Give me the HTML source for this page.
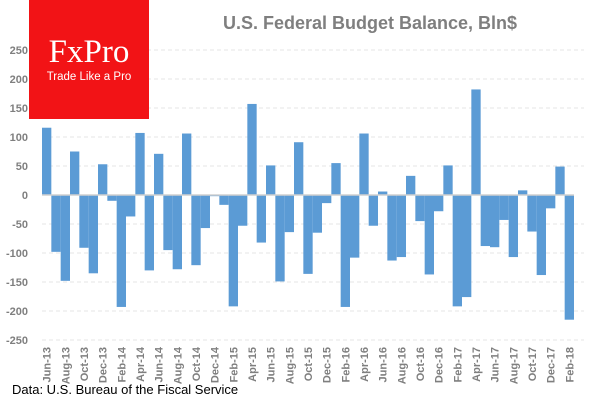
<!DOCTYPE html>
<html><head><meta charset="utf-8"><style>
body{margin:0;background:#fff;}
svg{display:block;font-family:"Liberation Sans",sans-serif;}
</style></head><body>
<svg id="c" width="600" height="400">
<text x="370" y="29" text-anchor="middle" font-size="18" font-weight="bold" fill="#7f7f7f">U.S. Federal Budget Balance, Bln$</text>
<g id="grid"></g><g id="bars"></g><g id="xl"></g>
<rect x="29" y="0" width="120" height="119" fill="#f21316"/>
<text x="89" y="62" text-anchor="middle" font-family="Liberation Serif,serif" font-size="33" fill="#fff">FxPro</text>
<text x="89" y="80" text-anchor="middle" font-size="11.5" fill="#fff">Trade Like a Pro</text>
<text x="12" y="394" font-size="13" fill="#000">Data: U.S. Bureau of the Fiscal Service</text>
</svg>
<script>
const months=["Jun-13","Jul-13","Aug-13","Sep-13","Oct-13","Nov-13","Dec-13","Jan-14","Feb-14","Mar-14","Apr-14","May-14","Jun-14","Jul-14","Aug-14","Sep-14","Oct-14","Nov-14","Dec-14","Jan-15","Feb-15","Mar-15","Apr-15","May-15","Jun-15","Jul-15","Aug-15","Sep-15","Oct-15","Nov-15","Dec-15","Jan-16","Feb-16","Mar-16","Apr-16","May-16","Jun-16","Jul-16","Aug-16","Sep-16","Oct-16","Nov-16","Dec-16","Jan-17","Feb-17","Mar-17","Apr-17","May-17","Jun-17","Jul-17","Aug-17","Sep-17","Oct-17","Nov-17","Dec-17","Jan-18","Feb-18"];
const balance=[116,-98,-148,75,-91,-135,53,-10,-193,-37,107,-130,71,-95,-128,106,-121,-57,-2,-17,-192,-53,157,-82,51,-149,-64,91,-136,-65,-14,55,-193,-108,106,-53,6,-113,-107,33,-45,-137,-28,51,-192,-176,182,-88,-90,-43,-107,8,-63,-138,-23,49,-215];
const yTicks=[250,200,150,100,50,0,-50,-100,-150,-200,-250];
const NS="http://www.w3.org/2000/svg";
const x0=42,x1=574,step=(x1-x0)/months.length;
const y=v=>195-v*0.58;
const xs=i=>x0+i*step;
const g=document.getElementById('grid'),b=document.getElementById('bars'),xl=document.getElementById('xl');
function mk(t,a,p){const e=document.createElementNS(NS,t);for(const k in a)e.setAttribute(k,a[k]);p.appendChild(e);return e;}
yTicks.forEach(t=>{
 if(t!==0){const l=mk('line',{x1:x0,x2:x1+10,y1:y(t),y2:y(t),stroke:'#e6e6e6','stroke-dasharray':'4,3'},g);
 
 }
 const tx=mk('text',{x:28,y:y(t)+4,'text-anchor':'end','font-size':11,'font-weight':'bold',fill:'#7f7f7f'},g);
 tx.textContent=t;
 
 
});
balance.forEach((v,i)=>{
 const r=mk('rect',{x:xs(i),y:Math.min(y(v),y(0)),width:step,height:Math.abs(y(v)-y(0)),fill:'#5b9bd5'},b);
 
 
});
const base=mk('line',{x1:x0,x2:x1,y1:y(0),y2:y(0),stroke:'#d0d0d0','stroke-width':1.5},b);


months.forEach((m,i)=>{
 if(i%2)return;
 const cx=xs(i)+step/2+4;
 const t=mk('text',{x:cx,y:347,'text-anchor':'end','font-size':11,'font-weight':'bold',fill:'#7f7f7f',transform:`rotate(-90 ${cx} 347)`},xl);
 t.textContent=m;
 
 
});
</script>
</body></html>
